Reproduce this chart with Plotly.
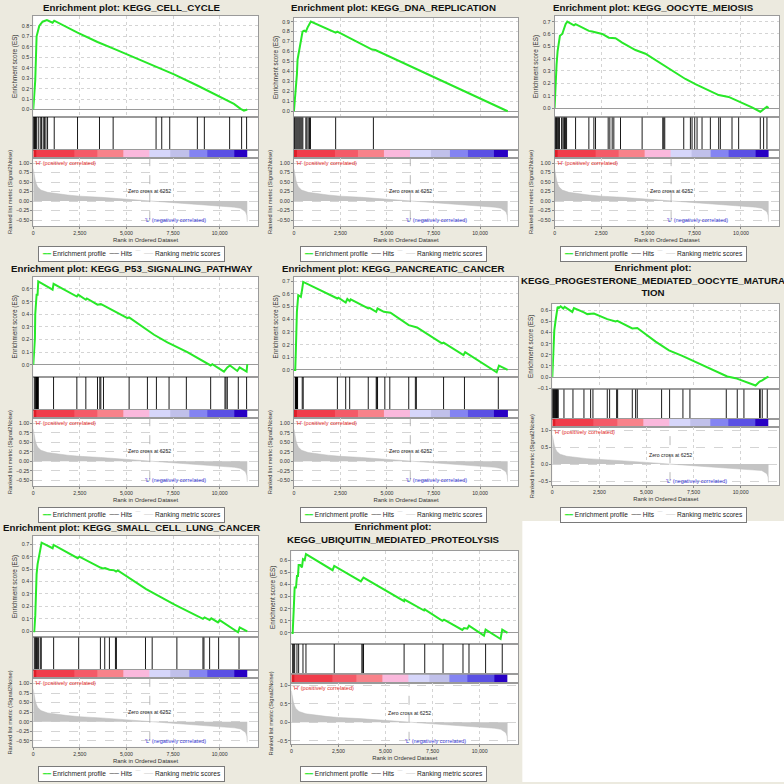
import plotly.graph_objects as go

W = H = 784
FONT = "Liberation Sans, Arial, DejaVu Sans, sans-serif"
GREEN = "rgb(40,232,40)"

TITLES = [
    "Enrichment plot: KEGG_CELL_CYCLE",
    "Enrichment plot: KEGG_DNA_REPLICATION",
    "Enrichment plot: KEGG_OOCYTE_MEIOSIS",
    "Enrichment plot: KEGG_P53_SIGNALING_PATHWAY",
    "Enrichment plot: KEGG_PANCREATIC_CANCER",
    "Enrichment plot:<br>KEGG_PROGESTERONE_MEDIATED_OOCYTE_MATURA<br>TION",
    "Enrichment plot: KEGG_SMALL_CELL_LUNG_CANCER",
    "Enrichment plot:<br>KEGG_UBIQUITIN_MEDIATED_PROTEOLYSIS",
]
LEGEND_LABELS = ["Enrichment profile", "Hits", "Ranking metric scores"]

N_GENES = 11482
ZERO_CROSS = 6252
X_TICKS = [0, 2500, 5000, 7500, 10000]

# ---- ranked list metric (shared by all panels) ----
RANK_X = [0, 36, 107, 160, 232, 411, 768, 1839, 2500, 3625, 5000, 6252,
          7500, 8800, 10000, 10800, 11125, 11393, 11460, 11482]
RANK_Y = [0.85, 0.72, 0.55, 0.46, 0.375, 0.29, 0.23, 0.16, 0.13, 0.10, 0.05, 0.0,
          -0.045, -0.08, -0.13, -0.16, -0.19, -0.28, -0.38, -0.54]

# ---- colour bar blocks (rank edges) ----
CBAR_EDGES = [0, 179, 2196, 3446, 4821, 6214, 7339, 8393, 9339, 10768, 11482]
CBAR_COLORS = ["#DE1E28", "#F03C4A", "#F45A68", "#F8828A", "#FAB8DC",
               "#D6D6FA", "#C0C0EA", "#8484F2", "#5A50E4", "#2800C4"]

# ---- enrichment profiles ----
ES_CELL_CYCLE_X = [0, 107, 179, 321, 500, 732, 1036, 1125, 2375, 3446, 4339, 5411,
                   6661, 7554, 8804, 9875, 10768, 11125, 11304, 11482]
ES_CELL_CYCLE_Y = [0.0, 0.28, 0.70, 0.80, 0.84, 0.855, 0.83, 0.85, 0.736, 0.646, 0.58, 0.50,
                   0.41, 0.336, 0.23, 0.134, 0.054, 0.006, -0.01, 0.0]
HITS_CELL_CYCLE = [15, 45, 75, 105, 135, 165, 268, 375, 446, 536, 607, 679, 768, 1125,
                   2375, 3554, 4286, 6589, 6893, 7321, 8804, 9179, 10536, 11179, 11446]

ES_DNA_X = [0, 53, 107, 160, 196, 249, 320, 374, 463, 552, 641, 730, 819, 907,
            2242, 2331, 4199, 4377, 11482]
ES_DNA_Y = [0.0, 0.10, 0.20, 0.37, 0.52, 0.57, 0.67, 0.72, 0.80, 0.81, 0.80, 0.84, 0.87, 0.90,
            0.79, 0.80, 0.62, 0.615, 0.0]
HITS_DNA = [20, 53, 107, 160, 214, 267, 320, 374, 427, 480, 641, 694, 765, 836, 890, 2242, 4270]

ES_OOCYTE_X = [0, 54, 107, 161, 232, 286, 411, 500, 554, 589, 679, 1036, 1125, 1839, 2018,
               2554, 2911, 3268, 3625, 4339, 4875, 5411, 5768, 6304, 7018, 7554, 8268, 8804,
               9339, 9696, 10054, 10589, 11036, 11214, 11393, 11482]
ES_OOCYTE_Y = [0.0, 0.22, 0.355, 0.46, 0.53, 0.585, 0.60, 0.64, 0.65, 0.68, 0.70, 0.67, 0.68,
               0.625, 0.62, 0.60, 0.57, 0.565, 0.53, 0.47, 0.44, 0.39, 0.355, 0.30, 0.235,
               0.194, 0.145, 0.105, 0.09, 0.065, 0.046, 0.005, -0.03, -0.008, 0.01, 0.0]
HITS_OOCYTE = [20, 60, 100, 140, 180, 220, 260, 375, 446, 500, 536, 589, 643, 1125, 1839,
               2107, 2196, 2875, 2964, 3089, 3179, 3536, 4696, 5804, 5857, 5911, 6929, 7286,
               7375, 7518, 7643, 7911, 8357, 8804, 8893, 9518, 9875, 11036, 11214, 11393]

ES_P53_X = [0, 54, 89, 107, 143, 179, 232, 268, 1036, 1089, 2339, 2411, 2821, 2875, 3446,
            3625, 3768, 5054, 5143, 6482, 7196, 8179, 8268, 9518, 9607, 10232, 10411, 10554,
            10946, 11071, 11446, 11482]
ES_P53_Y = [0.0, 0.106, 0.21, 0.40, 0.476, 0.555, 0.555, 0.66, 0.595, 0.64, 0.54, 0.555,
            0.515, 0.525, 0.476, 0.48, 0.47, 0.37, 0.375, 0.238, 0.177, 0.106, 0.10, -0.005,
            0.005, -0.053, -0.02, -0.005, -0.048, -0.02, -0.053, 0.005]
HITS_P53 = [54, 107, 143, 160, 179, 196, 214, 232, 250, 268, 1089, 2339, 2821, 3446, 3571,
            3625, 3768, 5143, 6125, 6607, 7286, 8214, 9518, 10286, 10339, 10411, 11000, 11446]

ES_PANC_X = [0, 71, 107, 160, 232, 374, 446, 499, 2335, 2389, 2781, 2870, 2995, 3048, 3993,
             4064, 4421, 4492, 4831, 5187, 6168, 6613, 7950, 8039, 9109, 9198, 10891, 11016,
             11482]
ES_PANC_Y = [0.0, 0.0, 0.17, 0.46, 0.59, 0.577, 0.64, 0.695, 0.564, 0.57, 0.532, 0.56, 0.543,
             0.558, 0.485, 0.49, 0.459, 0.485, 0.459, 0.452, 0.354, 0.335, 0.21, 0.215, 0.118,
             0.14, -0.018, 0.034, 0.0]
HITS_PANC = [71, 89, 107, 125, 143, 160, 178, 196, 446, 499, 2335, 2781, 2995, 3993, 4421,
             4456, 4492, 4884, 5151, 6168, 6524, 6578, 8039, 9162, 10980]

ES_PROG_X = [0, 53, 106, 177, 230, 283, 354, 442, 584, 655, 1062, 1150, 1681, 1858, 2212,
             2920, 3363, 3451, 4248, 4513, 5487, 6195, 6903, 7434, 8319, 9292, 9735, 10796,
             11009, 11150, 11327, 11482]
ES_PROG_Y = [0.0, 0.27, 0.42, 0.51, 0.585, 0.63, 0.62, 0.635, 0.615, 0.63, 0.585, 0.62, 0.58,
             0.565, 0.57, 0.52, 0.50, 0.505, 0.436, 0.44, 0.318, 0.24, 0.19, 0.15, 0.078,
             0.005, -0.01, -0.076, -0.04, -0.03, -0.01, 0.005]
HITS_PROG = [15, 45, 75, 105, 135, 165, 195, 225, 255, 285, 315, 619, 1097, 1681, 2035, 2159,
             2920, 3044, 3416, 3469, 4248, 4425, 4513, 5805, 6230, 6938, 7310, 9239, 9823,
             10177, 11009, 11044, 11150, 11416]

ES_SCLC_X = [0, 54, 108, 143, 179, 233, 323, 376, 448, 1039, 1093, 2384, 2473, 3602, 3728,
             3853, 4086, 4355, 4444, 4534, 6057, 7581, 9104, 9194, 9462, 9552, 9910, 10000,
             10986, 11075, 11482]
ES_SCLC_Y = [0.0, 0.0, 0.126, 0.35, 0.46, 0.54, 0.605, 0.66, 0.713, 0.668, 0.695, 0.588, 0.60,
             0.513, 0.505, 0.508, 0.495, 0.49, 0.48, 0.49, 0.34, 0.214, 0.10, 0.112, 0.09,
             0.104, 0.072, 0.09, -0.008, 0.032, 0.0]
HITS_SCLC = [54, 108, 143, 179, 233, 287, 376, 430, 1093, 2437, 3602, 3835, 4086, 4409, 4462,
             6022, 6380, 7706, 9104, 9158, 9462, 9946, 11039]

ES_UBIQ_X = [0, 71, 124, 177, 247, 300, 353, 389, 477, 565, 618, 707, 777, 2191, 2279, 3693,
             3834, 5989, 6010, 7049, 7085, 8021, 8110, 9081, 9170, 9346, 9435, 10230, 10318,
             11113, 11201, 11482]
ES_UBIQ_Y = [0.0, 0.0, 0.18, 0.375, 0.375, 0.47, 0.47, 0.56, 0.56, 0.54, 0.608, 0.60, 0.65,
             0.518, 0.553, 0.425, 0.457, 0.262, 0.275, 0.185, 0.195, 0.10, 0.11, 0.025, 0.04,
             0.035, 0.06, -0.022, 0.027, -0.05, 0.027, 0.0]
HITS_UBIQ = [71, 124, 177, 300, 389, 618, 777, 2279, 3746, 3799, 3834, 5989, 7085, 8057, 9117,
             9435, 10318, 11201]

ES_X = [ES_CELL_CYCLE_X, ES_DNA_X, ES_OOCYTE_X, ES_P53_X, ES_PANC_X, ES_PROG_X, ES_SCLC_X, ES_UBIQ_X]
ES_Y = [ES_CELL_CYCLE_Y, ES_DNA_Y, ES_OOCYTE_Y, ES_P53_Y, ES_PANC_Y, ES_PROG_Y, ES_SCLC_Y, ES_UBIQ_Y]
HITS = [HITS_CELL_CYCLE, HITS_DNA, HITS_OOCYTE, HITS_P53, HITS_PANC, HITS_PROG, HITS_SCLC, HITS_UBIQ]

# ---- layout geometry (pixels relative to each panel's origin) ----
COL_X = [0, 262, 522]
ROW_Y = [0, 262, 522]
PANEL_CELL = [(0, 0), (1, 0), (2, 0), (0, 1), (1, 1), (2, 1), (0, 2), (1, 2)]
# left, right, es_top, es_bot, cb_top, cb_bot, rank_bot, title_center_y
GEOM = [
    (32.3, 257.3, 15.0, 116.0, 149.3, 157.3, 226.0, 6.5),
    (31.3, 256.0, 16.7, 116.7, 149.3, 157.3, 226.0, 6.5),
    (32.3, 257.3, 15.0, 116.7, 149.3, 157.3, 226.0, 6.5),
    (32.3, 257.3, 15.0, 115.0, 148.3, 156.7, 225.0, 6.5),
    (31.3, 256.0, 15.0, 115.0, 148.3, 156.7, 225.0, 6.5),
    (30.0, 257.3, 41.7, 127.7, 157.3, 165.7, 224.0, 18.5),
    (32.3, 257.3, 15.0, 116.7, 149.3, 157.7, 226.7, 6.5),
    (28.7, 256.0, 30.0, 123.3, 154.0, 162.3, 224.0, 12.5),
]
ES_RANGE = [(-0.067, 0.895), (-0.06, 0.94), (-0.075, 0.746), (-0.0925, 0.695),
            (-0.052, 0.734), (-0.109, 0.66), (-0.048, 0.767), (-0.09, 0.677)]
RANK_RANGE = [(-0.657, 1.14)] * 5 + [(-0.618, 1.088), (-0.657, 1.14), (-0.59, 1.07)]
RANK_DTICK = [0.25] * 5 + [0.5, 0.25, 0.5]
X_MAX = N_GENES * 1.05

fig = go.Figure()
layout = dict(
    width=W, height=H, margin=dict(l=0, r=0, t=0, b=0),
    paper_bgcolor="#ECEADF", plot_bgcolor="white",
    font=dict(family=FONT, size=5.5, color="#333"),
    showlegend=False,
)
annotations = []
shapes = [dict(type="rect", xref="paper", yref="paper", x0=522 / W, x1=1, y0=0, y1=1 - 522 / H,
               fillcolor="white", line=dict(width=0), layer="below")]


def px_y(v):
    return 1 - v / H


def ax(n):
    return ("x" if n == 1 else f"x{n}"), ("y" if n == 1 else f"y{n}")


def akey(n, kind):
    return f"{kind}axis" if n == 1 else f"{kind}axis{n}"


n_cb = len(CBAR_COLORS)
cb_scale = []
for k, col in enumerate(CBAR_COLORS):
    cb_scale += [[k / n_cb, col], [(k + 1) / n_cb, col]]

legend_text = (
    f"<span style='color:{GREEN}'><b>━━</b></span> {LEGEND_LABELS[0]}  "
    f"<span style='color:#111'>──</span> {LEGEND_LABELS[1]}  "
    f"<span style='color:#D4D4D4'>‾‾</span>  "
    f"<span style='color:#C8C8C8'>──</span> {LEGEND_LABELS[2]}"
)

for i in range(8):
    c, r = PANEL_CELL[i]
    ox, oy = COL_X[c], ROW_Y[r]
    L, R, es_top, es_bot, cb_top, cb_bot, rank_bot, tcy = GEOM[i]
    a_es, a_hit, a_cb, a_rk = 4 * i + 1, 4 * i + 2, 4 * i + 3, 4 * i + 4
    xdom = [(ox + L) / W, (ox + R) / W]

    ydoms = {
        a_es: [px_y(oy + es_bot), px_y(oy + es_top)],
        a_hit: [px_y(oy + cb_top), px_y(oy + es_bot)],
        a_cb: [px_y(oy + cb_bot), px_y(oy + cb_top)],
        a_rk: [px_y(oy + rank_bot), px_y(oy + cb_bot)],
    }
    for n, yd in ydoms.items():
        xn, yn = ax(n)
        is_grid = n in (a_es, a_rk)
        layout[akey(n, "x")] = dict(
            domain=xdom, anchor=yn, range=[0, X_MAX], showline=True, mirror=True,
            linecolor="#9A9A9A", linewidth=1, zeroline=False,
            showgrid=is_grid, gridcolor="#D4D4D4", griddash="dot", gridwidth=0.6,
            tickvals=X_TICKS, tickformat=",d",
            showticklabels=(n == a_rk), ticks=("outside" if n == a_rk else ""),
            ticklen=2, tickcolor="#888", tickfont=dict(size=5.2, color="#333"),
            title=dict(text="Rank in Ordered Dataset" if n == a_rk else "",
                       font=dict(size=5.9, color="#333"), standoff=2),
        )
        ydef = dict(domain=yd, anchor=xn, showline=True, mirror=True, linecolor="#9A9A9A",
                    linewidth=1, showgrid=False, zeroline=False, showticklabels=False,
                    ticks="", fixedrange=True)
        if n == a_es:
            ydef.update(range=list(ES_RANGE[i]), dtick=0.1, tickformat=".1f", showticklabels=True,
                        ticks="outside", ticklen=2, tickcolor="#888",
                        showgrid=True, gridcolor="#D4D4D4", griddash="dot", gridwidth=0.6,
                        zeroline=True, zerolinecolor="#9A9A9A", zerolinewidth=1,
                        tickfont=dict(size=5.4, color="#333"),
                        title=dict(text="Enrichment score (ES)", font=dict(size=6.3, color="#333"),
                                   standoff=3))
        elif n == a_rk:
            ydef.update(range=list(RANK_RANGE[i]), dtick=RANK_DTICK[i],
                        tickformat=(".2f" if RANK_DTICK[i] == 0.25 else ".1f"),
                        showticklabels=True, ticks="outside", ticklen=2, tickcolor="#888",
                        showgrid=True, gridcolor="#D4D4D4", griddash="dash", gridwidth=0.6,
                        tickfont=dict(size=5.2, color="#333"),
                        title=dict(text="Ranked list metric (Signal2Noise)",
                                   font=dict(size=5.7, color="#333"), standoff=3))
        else:
            ydef.update(range=[0, 1])
        layout[akey(n, "y")] = ydef

    # enrichment profile
    xn, yn = ax(a_es)
    fig.add_trace(go.Scatter(x=ES_X[i], y=ES_Y[i], mode="lines", name=LEGEND_LABELS[0],
                             line=dict(color=GREEN, width=2), xaxis=xn, yaxis=yn))
    # hits
    hx, hy = [], []
    for h in HITS[i]:
        hx += [h, h, None]
        hy += [0, 1, None]
    xn, yn = ax(a_hit)
    fig.add_trace(go.Scatter(x=hx, y=hy, mode="lines", name=LEGEND_LABELS[1],
                             line=dict(color="black", width=0.9), xaxis=xn, yaxis=yn))
    # colour bar
    xn, yn = ax(a_cb)
    fig.add_trace(go.Heatmap(x=CBAR_EDGES, y=[0, 1], z=[list(range(n_cb))],
                             colorscale=cb_scale, zmin=-0.5, zmax=n_cb - 0.5,
                             showscale=False, hoverinfo="skip", xaxis=xn, yaxis=yn))
    # ranked list metric
    xn, yn = ax(a_rk)
    fig.add_trace(go.Scatter(x=RANK_X, y=RANK_Y, mode="lines", fill="tozeroy",
                             name=LEGEND_LABELS[2],
                             fillcolor="#C4C4C4", line=dict(color="#BDBDBD", width=0.5),
                             xaxis=xn, yaxis=yn))
    fig.add_trace(go.Scatter(x=[ZERO_CROSS, ZERO_CROSS], y=[-0.5, RANK_RANGE[i][1]], mode="lines",
                             line=dict(color="#A8A8A8", width=0.8, dash="dash"),
                             xaxis=xn, yaxis=yn))

    annotations += [
        dict(text=f"<b>{TITLES[i]}</b>", xref="paper", yref="paper",
             x=(ox + 131) / W, y=px_y(oy + tcy), xanchor="center", yanchor="middle",
             showarrow=False, font=dict(size=9.7, color="#111")),
        dict(text="'H' (positively correlated)", xref=xn, yref=f"{yn} domain", x=0, y=1,
             xanchor="left", yanchor="top", showarrow=False,
             font=dict(size=5.6, color="#E02828")),
        dict(text=f"Zero cross at {ZERO_CROSS}", xref=xn, yref=yn, x=ZERO_CROSS, y=0.26,
             xanchor="center", yanchor="middle", showarrow=False,
             font=dict(size=5.2, color="#222")),
        dict(text="'L' (negatively correlated)", xref=xn, yref=yn, x=7650, y=-0.5,
             xanchor="center", yanchor="middle", showarrow=False,
             font=dict(size=5.5, color="#3434D4")),
        dict(text=legend_text, xref="paper", yref="paper",
             x=(ox + 131) / W, y=px_y(oy + 254), xanchor="center", yanchor="middle",
             showarrow=False, bgcolor="white", bordercolor="#7A7A7A", borderwidth=1,
             borderpad=3, font=dict(size=6.6, color="#222")),
    ]

layout["annotations"] = annotations
layout["shapes"] = shapes
fig.update_layout(**layout)
fig.write_html("out.html", config={"displayModeBar": False},
               post_script="document.body.style.margin='0px';")
